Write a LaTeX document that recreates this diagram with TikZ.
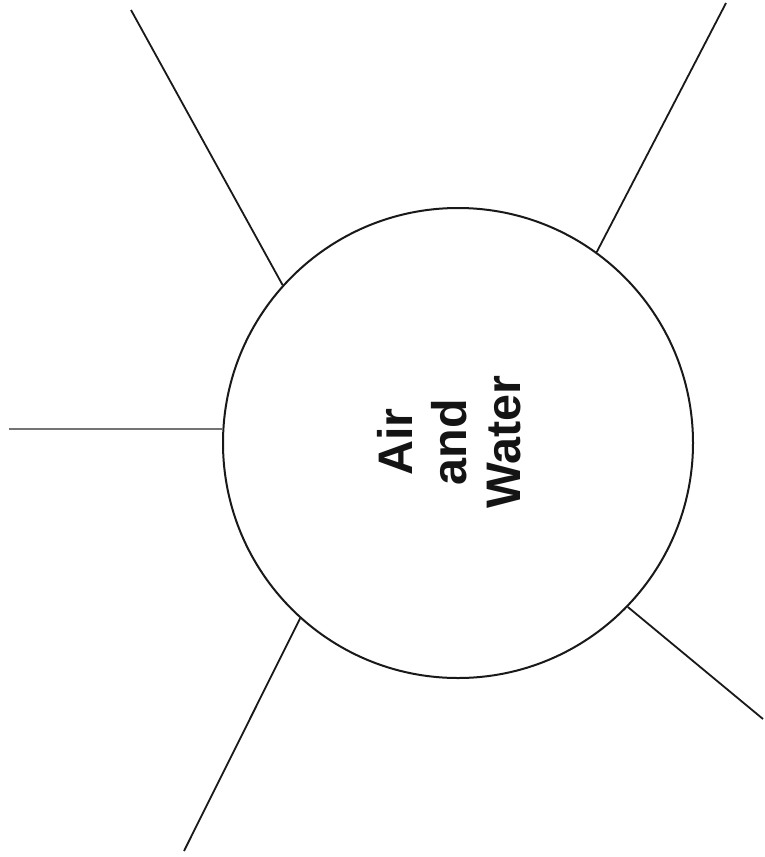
\documentclass[tikz,border=0pt]{standalone}
\usepackage{fontspec}
\setmainfont{Liberation Sans}
\begin{document}
\begin{tikzpicture}[x=1pt,y=-1pt,
  spoke/.style={line width=1.8pt, color=black!90},
  thinspoke/.style={line width=1.1pt, color=black!55},
  hub/.style={circle, draw=black!90, line width=2pt, minimum size=470pt, inner sep=0pt},
  hubtext/.style={font=\fontsize{48.5}{54}\selectfont\bfseries, align=center, rotate=90, text=black!92}]
\useasboundingbox (0,0) rectangle (764,857);
\node[hub] (c) at (458,443) {};
\node[hubtext] (t) at (449,442) {Air\\and\\Water};
\coordinate (e1) at (131,10);
\coordinate (e2) at (726,3);
\coordinate (e3) at (9,429);
\coordinate (e4) at (184,851);
\coordinate (e5) at (763,719);
\draw[spoke] (e1) -- (c.{180-atan2(155,178)});
\draw[spoke] (e2) -- (c.{atan2(191,138)});
\draw[thinspoke] (e3) -- (223,429);
\draw[spoke] (e4) -- (c.{180+atan2(179,156)});
\draw[spoke] (e5) -- (c.{-atan2(167,168)});
\end{tikzpicture}
\end{document}
